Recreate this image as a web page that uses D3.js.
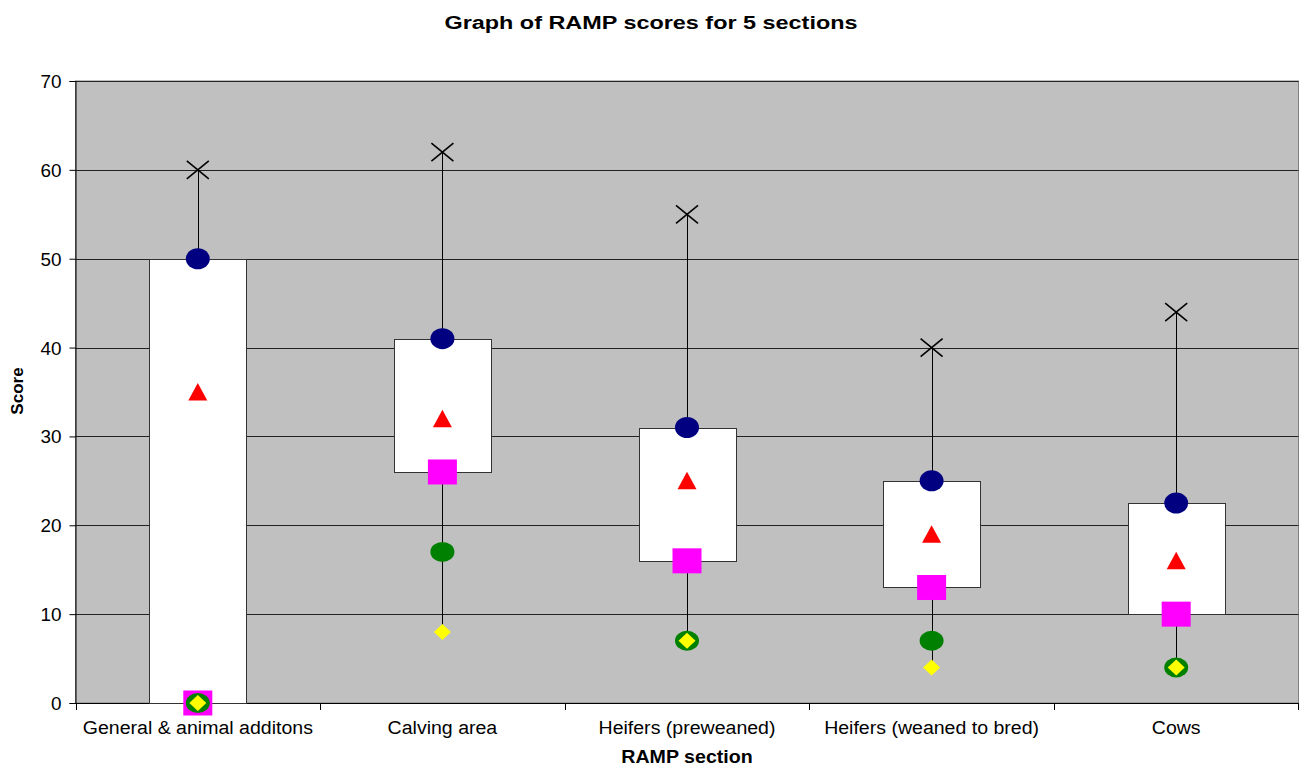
<!DOCTYPE html>
<html><head><meta charset="utf-8">
<script src="https://cdn.jsdelivr.net/npm/d3@7"></script>
<style>body{margin:0;background:#fff;}svg{display:block;font-family:"Liberation Sans",Arial,sans-serif;}</style>
</head><body>
<svg id="c" width="1299" height="767"></svg>
<script>
const categories = ["General & animal additons","Calving area","Heifers (preweaned)","Heifers (weaned to bred)","Cows"];
const maxVals   = [60, 62, 55, 40, 44];
const q3Vals    = [50, 41, 31, 25, 22.5];
const meanVals  = [35, 32, 25, 19, 16];
const q1Vals    = [0, 26, 16, 13, 10];
const lowVals   = [0, 17, 7, 7, 4];
const minVals   = [0, 8, 7, 4, 4];
const yTicks    = [0,10,20,30,40,50,60,70];

const svg = d3.select("#c");
const L = 75.5, R = 1298.5, T = 81, B = 703;
const x = d3.scaleBand().domain(categories).range([L, R]).padding(0);
const y = d3.scaleLinear().domain([0,70]).range([B, T]);
const cx = c => x(c) + x.bandwidth()/2;
const FF = "Liberation Sans, Arial, sans-serif";

function stretch(sel, f){
  sel.each(function(){
    const w = this.getComputedTextLength();
    d3.select(this).attr("textLength", w*f).attr("lengthAdjust","spacingAndGlyphs");
  });
}

svg.append("rect").attr("x",L).attr("y",T).attr("width",R-L).attr("height",B-T)
  .attr("fill","#c0c0c0").attr("stroke","#808080").attr("stroke-width",1);

// gridlines
svg.append("g").selectAll("line").data(yTicks.filter(d=>d>0)).join("line")
  .attr("x1",L).attr("x2",R).attr("y1",d=>Math.round(y(d))+0.5).attr("y2",d=>Math.round(y(d))+0.5)
  .attr("stroke","#222").attr("stroke-width",1);

// y axis
const ya = svg.append("g").attr("transform",`translate(${L},0)`)
  .call(d3.axisLeft(y).tickValues(yTicks).tickSize(6).tickPadding(8).tickFormat(d3.format("d")));
ya.select(".domain").attr("stroke","#000");
ya.selectAll(".tick line").attr("stroke","#000");
ya.selectAll("text").attr("font-size",18).attr("fill","#000").attr("font-family",FF).attr("dy","0.36em");
stretch(ya.selectAll("text"), 1.05);

// x axis
const xa = svg.append("g").attr("transform",`translate(0,${B})`)
  .call(d3.axisBottom(x).tickSize(0).tickPadding(0));
xa.select(".domain").attr("stroke","#000");
xa.selectAll("text").attr("font-size",18).attr("fill","#000").attr("font-family",FF).attr("dy",null).attr("y",31);
stretch(xa.selectAll("text"), 1.085);
svg.append("g").selectAll("line").data(categories).join("line")
  .attr("x1",d=>Math.round(x(d))+0.5).attr("x2",d=>Math.round(x(d))+0.5)
  .attr("y1",B).attr("y2",B+7).attr("stroke","#000");
svg.append("line").attr("x1",R).attr("x2",R).attr("y1",B).attr("y2",B+7).attr("stroke","#000");

// whiskers
const g = svg.append("g");
g.selectAll(".wh").data(categories).join("line")
  .attr("x1",d=>Math.round(cx(d))+0.5).attr("x2",d=>Math.round(cx(d))+0.5)
  .attr("y1",(d,i)=>y(minVals[i])).attr("y2",(d,i)=>y(maxVals[i]))
  .attr("stroke","#000").attr("stroke-width",1);
// boxes
const bw = 97;
g.selectAll(".bx").data(categories).join("rect")
  .attr("x",d=>Math.round(cx(d)-bw/2)+0.5).attr("width",bw)
  .attr("y",(d,i)=>Math.round(y(q3Vals[i]))+0.5).attr("height",(d,i)=>Math.round(y(q1Vals[i]))-Math.round(y(q3Vals[i])))
  .attr("fill","#fff").attr("stroke","#333").attr("stroke-width",1);

// markers
g.selectAll(".mx").data(categories).join("path")
  .attr("d", d3.line()([[-11,-9],[11,9]]) + d3.line()([[-11,9],[11,-9]]))
  .attr("transform",(d,i)=>`translate(${cx(d)},${y(maxVals[i])})`)
  .attr("stroke","#000").attr("stroke-width",1.6).attr("fill","none");
g.selectAll(".q3").data(categories).join("ellipse")
  .attr("cx",cx).attr("cy",(d,i)=>y(q3Vals[i])).attr("rx",12).attr("ry",10.5).attr("fill","#000080");
g.selectAll(".mn").data(categories).join("path")
  .attr("d","M0,-9L9.5,8.5L-9.5,8.5Z")
  .attr("transform",(d,i)=>`translate(${cx(d)},${y(meanVals[i])})`).attr("fill","#ff0000");
g.selectAll(".q1").data(categories).join("rect")
  .attr("x",d=>cx(d)-14.5).attr("y",(d,i)=>y(q1Vals[i])-12.5).attr("width",29).attr("height",25).attr("fill","#ff00ff");
g.selectAll(".lo").data(categories).join("ellipse")
  .attr("cx",cx).attr("cy",(d,i)=>y(lowVals[i])).attr("rx",12).attr("ry",10).attr("fill","#008000");
g.selectAll(".mi").data(categories).join("path")
  .attr("d","M0,-8L8.5,0L0,8L-8.5,0Z")
  .attr("transform",(d,i)=>`translate(${cx(d)},${y(minVals[i])})`).attr("fill","#ffff00");

// titles
const t1 = svg.append("text").attr("x",651).attr("y",29).attr("text-anchor","middle")
  .attr("font-size",18).attr("font-weight","bold").text("Graph of RAMP scores for 5 sections");
stretch(t1, 1.3);
const t2 = svg.append("text").attr("x",(L+R)/2).attr("y",763).attr("text-anchor","middle")
  .attr("font-size",17.5).attr("font-weight","bold").text("RAMP section");
stretch(t2, 1.12);
svg.append("text").attr("transform","translate(23,391) rotate(-90)").attr("text-anchor","middle")
  .attr("font-size",17).attr("font-weight","bold").text("Score");
</script>
</body></html>
